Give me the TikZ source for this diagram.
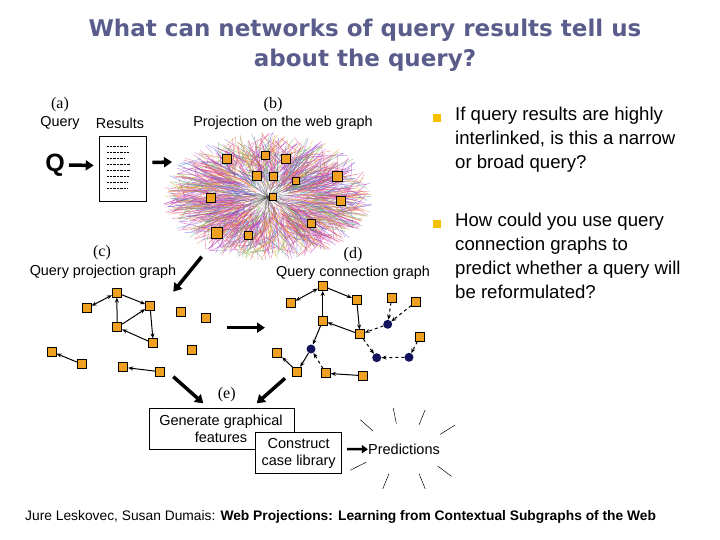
\documentclass[tikz,border=0pt]{standalone}
\usepackage{fontspec}
\setmainfont{Liberation Sans}
\newfontfamily\serifq{Liberation Serif}
\newfontfamily\titlef{DejaVu Sans}
\usetikzlibrary{arrows.meta,calc}
\definecolor{titlec}{HTML}{5A5C8C}
\definecolor{sq}{HTML}{F0A020}
\definecolor{bul}{HTML}{F5C000}
\definecolor{navy}{HTML}{14145E}
\definecolor{c0}{HTML}{E03070}
\definecolor{c1}{HTML}{C030C0}
\definecolor{c2}{HTML}{F07040}
\definecolor{c3}{HTML}{50B050}
\definecolor{c4}{HTML}{5070E0}
\definecolor{c5}{HTML}{E0B030}
\definecolor{c6}{HTML}{E050A0}
\definecolor{c7}{HTML}{A050E0}
\begin{document}
\begin{tikzpicture}[x=1pt,y=-1pt,
  sqn/.style={draw=black,fill=sq,minimum size=9pt,inner sep=0pt,line width=0.7pt},
  cn/.style={circle,fill=navy,minimum size=9pt,inner sep=0pt},
  lab/.style={font=\fontsize{14.4}{15}\selectfont,inner sep=0pt},
  ser/.style={font=\serifq\fontsize{16}{16}\selectfont,inner sep=0pt},
  ed/.style={-{Stealth[length=5pt,width=4pt]},line width=1pt},
  de/.style={ed,dashed},
  big/.style={-{Triangle[length=8pt,width=10pt]},line width=3.5pt},
  bx/.style={draw=black,fill=white,line width=0.6pt,font=\fontsize{14.5}{17}\selectfont,align=center}]
\useasboundingbox (0,0) rectangle (720,540);
\fill[white] (0,0) rectangle (720,540);
% title
\node[font=\titlef\bfseries\fontsize{23}{30}\selectfont,text=titlec,align=center] (title) at (365,45) {What can networks of query results tell us\\about the query?};
% bullets
\node[fill=bul,minimum size=8pt,inner sep=0pt] (b1) at (437,118) {};
\node[fill=bul,minimum size=8pt,inner sep=0pt] (b2) at (437,224) {};
\node[anchor=north west,align=left,font=\fontsize{18.6}{24}\selectfont,inner sep=0pt] (t1) at (455,107) {If query results are highly\\interlinked, is this a narrow\\or broad query?};
\node[anchor=north west,align=left,font=\fontsize{18.6}{24}\selectfont,inner sep=0pt] (t2) at (455,213) {How could you use query\\connection graphs to\\predict whether a query will\\be reformulated?};
% footer
\node[anchor=west,font=\fontsize{13.8}{14}\selectfont,inner sep=0pt] (foot) at (25,517) {Jure Leskovec, Susan Dumais: \textbf{Web Projections: Learning from Contextual Subgraphs of the Web}};
% (a)
\node[ser] (la) at (60,105) {(a)};
\node[lab] (lq) at (60,123) {Query};
\node[lab] (lr) at (120,123) {Results};
\node[font=\bfseries\fontsize{25}{25}\selectfont,inner sep=0pt] (Q) at (55,165) {Q};
\node[draw=black,fill=white,minimum width=47pt,minimum height=65pt,inner sep=0pt,line width=0.6pt] (doc) at (122.5,168.5) {};
\foreach \yy/\w in {146/12,152/14,158/10,164/15,170/15,176/14,182/13,188/12}
  \draw[line width=0.4pt,densely dotted] (107,\yy) -- ++(\w+8,0);
\draw[big] ($(Q.east)+(4,0)$) -- ($(doc.west)+(-5,-3)$);
% cloud
\coordinate (cc) at (268,197);
\pgfmathsetseed{7}
\foreach \i in {1,...,1500}{
  \pgfmathsetmacro\a{rnd*360}
  \pgfmathsetmacro\r{0.15+0.85*sqrt(rnd)}
  \pgfmathtruncatemacro\c{int(rnd*7.99)}
  \pgfmathsetmacro\s{\r*(0.3+0.6*rnd)}
  \pgfmathsetmacro\b{\a+(rnd-0.5)*40}
  \draw[c\c,line width=0.4pt,opacity=0.65] ($(cc)+({105*\s*cos(\b)},{65*\s*sin(\b)})$) -- ($(cc)+({105*\r*cos(\a)},{65*\r*sin(\a)})$);
}
\foreach \i in {1,...,80}{
  \pgfmathsetmacro\a{rnd*360}
  \pgfmathsetmacro\r{0.1+0.35*rnd}
  \draw[black!70,line width=0.3pt,opacity=0.5] (cc) -- ($(cc)+({105*\r*cos(\a)},{65*\r*sin(\a)})$);
}
\draw[big] ($(doc.east)+(6,-6)$) -- (172,162);
\node[ser] (lb) at (273,105) {(b)};
\node[lab] (lp) at (283,123) {Projection on the web graph};
\foreach \x/\y/\s [count=\k] in {226.7/159/9,265/155/8,286/159.3/9,256.7/176/9,273.3/176/8,295.7/181/7,337.3/176.7/10,210.7/197.7/9,272.7/197.3/7,340.7/201/9,311.7/223.3/8,216.7/232.7/11,248.3/235.7/8}
  \node[draw=black,fill=sq,minimum size=\s pt,inner sep=0pt,line width=0.6pt] (w\k) at (\x,\y) {};
% (c)
\node[ser] (lc) at (102,253) {(c)};
\node[lab] (lpg) at (103,272) {Query projection graph};
\coordinate (cl) at (201.7,256.7);
\coordinate (cr) at (173.3,291.7);
\draw[big] (cl) -- (cr);
\foreach \n/\x/\y in {p1/116.7/292.7,p2/150/306,p3/86.7/308.3,p4/117.3/327.3,p5/153.3/343.3,p6/181/311.7,p7/205.7/318.3,p8/192.3/350,p9/51.7/351.7,p10/81.7/364,p11/123.3/367.3,p12/160/371.7}
  \node[sqn] (\n) at (\x,\y) {};
\draw[ed,{Stealth[length=5pt,width=4pt]}-{Stealth[length=5pt,width=4pt]}] (p3) -- (p1);
\draw[ed] (p1) -- (p2);
\draw[ed] (p4) -- (p1);
\draw[ed] (p4) -- (p2);
\draw[ed] (p2) -- (p5);
\draw[ed] (p5) -- (p4);
\draw[ed] (p10) -- (p9);
\draw[ed] (p12) -- (p11);
% middle arrow
\coordinate (ml) at (226.7,327.7);
\coordinate (mr) at (265,327.7);
\draw[big] (ml) -- (mr);
% (d)
\node[ser] (ld) at (353,255) {(d)};
\node[lab] (lcg) at (353,273) {Query connection graph};
\foreach \n/\x/\y in {d1/322.7/286,d2/290.7/303.3,d3/356.7/300,d4/391.7/297.7,d5/416/301.7,d6/322.7/320.7,d8/360/334.3,d9/420/336.7,d11/277.3/352.7,d14/297.3/371.7,d15/326/373.3,d16/363.3/375.7}
  \node[sqn] (\n) at (\x,\y) {};
\foreach \n/\x/\y in {d7/387.7/324.3,d10/311/349,d12/376.7/357.7,d13/409/357.3}
  \node[cn] (\n) at (\x,\y) {};
\draw[ed,{Stealth[length=5pt,width=4pt]}-{Stealth[length=5pt,width=4pt]}] (d2) -- (d1);
\draw[ed] (d1) -- (d3);
\draw[ed] (d6) -- (d1);
\draw[ed] (d3) -- (d8);
\draw[ed] (d8) -- (d6);
\draw[ed] (d6) -- (d10);
\draw[ed] (d10) -- (d14);
\draw[ed] (d14) -- (d11);
\draw[de] (d15) -- (d10);
\draw[ed] (d16) -- (d15);
\draw[de] (d4) -- (d7);
\draw[de] (d5) -- (d7);
\draw[de] (d7) -- (d8);
\draw[de] (d8) -- (d12);
\draw[de] (d13) -- (d12);
\draw[de] (d9) -- (d13);
% (e)
\node[ser] (le) at (226.7,395) {(e)};
\node[bx,minimum width=145pt,minimum height=41pt] (gen) at (221.5,428.5) {};
\node[font=\fontsize{14.5}{17}\selectfont,inner sep=0pt,align=center] (gent) at (221,429) {Generate graphical\\features};
\node[bx,minimum width=86pt,minimum height=40.6pt] (con) at (298.7,453) {Construct\\case library};
\coordinate (e1) at (173.3,376.7);
\coordinate (e2) at (203.3,403.3);
\coordinate (e3) at (285,378.3);
\coordinate (e4) at (256.7,403.3);
\draw[big] (e1) -- (e2);
\draw[big] (e3) -- (e4);
\node[font=\fontsize{14.5}{14}\selectfont,inner sep=0pt] (pred) at (404,449.3) {Predictions};
\draw[-{Triangle[length=6pt,width=8pt]},line width=2.5pt] ($(con.east)+(5,-4)$) -- (pred.west);
\foreach \a in {70,100,135,210,250,290,320,35}
  \draw[line width=0.5pt] ($(pred)+({44*cos(\a)},{-26*sin(\a)})$) -- ($(pred)+({62*cos(\a)},{-42*sin(\a)})$);
\end{tikzpicture}
\end{document}
